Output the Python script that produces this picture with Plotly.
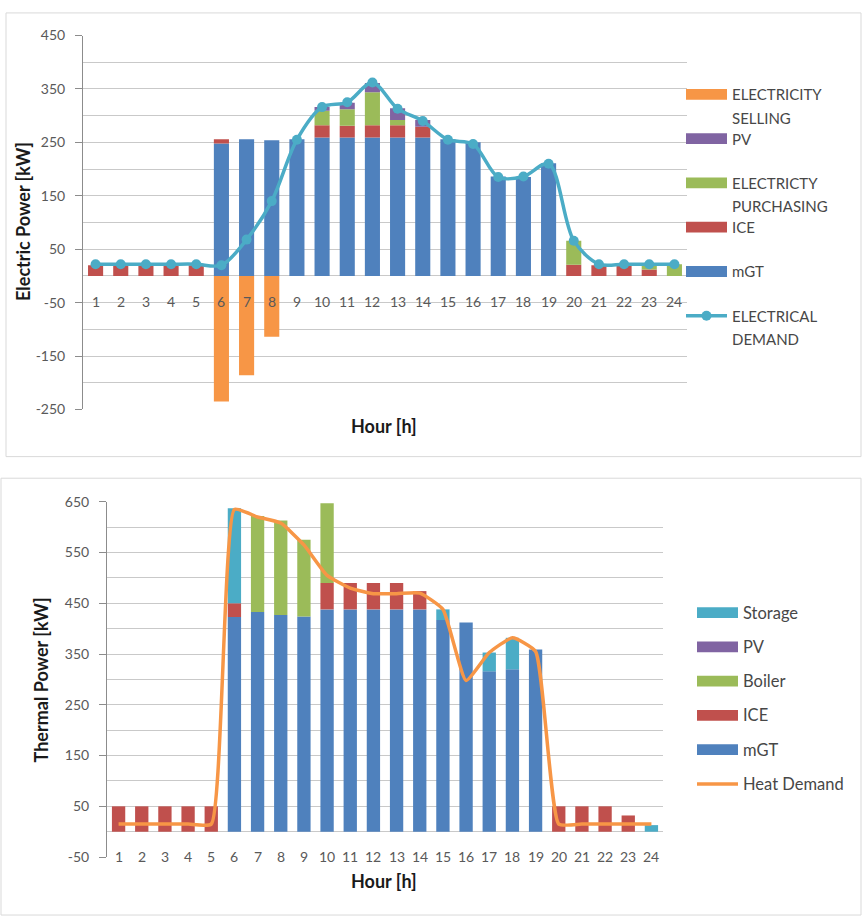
import plotly.graph_objects as go

# ---------------------------------------------------------------- data
hours = list(range(1, 25))
hour_labels = [str(h) for h in hours]

# Electric balance [kW]
elec_mgt = [0, 0, 0, 0, 0, 248, 256, 254, 256, 259, 259, 259, 259, 259, 256, 250, 186, 185, 211, 0, 0, 0, 0, 0]
elec_ice = [20, 20, 20, 20, 20, 8, 0, 0, 0, 23, 22, 23, 23, 20, 0, 0, 0, 0, 0, 21, 20, 20, 12, 0]
elec_purchasing = [0, 0, 0, 0, 0, 0, 0, 0, 0, 27, 31, 62, 10, 0, 0, 0, 0, 0, 0, 45, 0, 0, 8, 22]
elec_pv = [0, 0, 0, 0, 0, 0, 0, 0, 0, 7, 12, 17, 22, 13, 0, 0, 0, 0, 0, 0, 0, 0, 0, 0]
elec_selling = [0, 0, 0, 0, 0, -235, -186, -114, 0, 0, 0, 0, 0, 0, 0, 0, 0, 0, 0, 0, 0, 0, 0, 0]
elec_demand = [22, 22, 22, 22, 22, 20, 68, 140, 255, 316, 325, 362, 313, 290, 255, 247, 185, 186, 210, 66, 22, 22, 22, 22]
elec_ticks = [-250, -150, -50, 50, 150, 250, 350, 450]

# Thermal balance [kW]
heat_mgt = [0, 0, 0, 0, 0, 423, 433, 427, 424, 438, 438, 438, 438, 438, 417, 412, 316, 320, 359, 0, 0, 0, 0, 0]
heat_ice = [50, 50, 50, 50, 50, 27, 0, 0, 0, 52, 52, 52, 52, 36, 0, 0, 0, 0, 0, 50, 50, 50, 32, 0]
heat_boiler = [0, 0, 0, 0, 0, 0, 189, 186, 151, 157, 0, 0, 0, 0, 0, 0, 0, 0, 0, 0, 0, 0, 0, 0]
heat_pv = [0] * 24
heat_storage = [0, 0, 0, 0, 0, 187, 0, 0, 0, 0, 0, 0, 0, 0, 21, 0, 37, 62, 0, 0, 0, 0, 0, 13]
heat_demand = [15, 15, 15, 15, 15, 635, 620, 608, 565, 505, 480, 469, 469, 470, 438, 298, 353, 382, 355, 15, 15, 15, 15, 15]
heat_ticks = [-50, 50, 150, 250, 350, 450, 550, 650]

# ---------------------------------------------------------------- styling
W, H = 862, 924
BLUE, RED, GREEN = "#4F81BD", "#C0504D", "#9BBB59"
PURPLE, AQUA, ORANGE = "#8064A2", "#4BACC6", "#F79646"
GRID = "#c9c9c9"
AXIS = "#8c8c8c"
FAMILY = "Lato, Carlito, sans-serif"
TICK_FONT = dict(family=FAMILY, size=14, color="#595959")
TITLE_FONT = dict(family=FAMILY, size=18, color="#1a1a1a")
LEG_FONT_TOP = dict(family=FAMILY, size=15, color="#474747")
LEG_FONT_BOT = dict(family=FAMILY, size=16.5, color="#474747")


def fx(px):
    return px / W


def fy(py):
    return 1 - py / H


fig = go.Figure()

# ---- electric chart (x / y)
elec_bars = [
    ("mGT", elec_mgt, BLUE),
    ("ICE", elec_ice, RED),
    ("ELECTRICTY PURCHASING", elec_purchasing, GREEN),
    ("PV", elec_pv, PURPLE),
    ("ELECTRICITY SELLING", elec_selling, ORANGE),
]
for name, vals, col in elec_bars:
    fig.add_trace(go.Bar(x=hours, y=vals, name=name, marker_color=col,
                         marker_line_width=0, width=0.6, showlegend=False,
                         xaxis="x", yaxis="y"))
fig.add_trace(go.Scatter(x=hours, y=elec_demand, name="ELECTRICAL DEMAND",
                         mode="lines+markers",
                         line=dict(color=AQUA, width=3.5, shape="spline", smoothing=0.9),
                         marker=dict(color=AQUA, size=10), showlegend=False,
                         xaxis="x", yaxis="y"))

# ---- thermal chart (x2 / y2)
heat_bars = [
    ("mGT", heat_mgt, BLUE),
    ("ICE", heat_ice, RED),
    ("Boiler", heat_boiler, GREEN),
    ("PV", heat_pv, PURPLE),
    ("Storage", heat_storage, AQUA),
]
for name, vals, col in heat_bars:
    fig.add_trace(go.Bar(x=hours, y=vals, name=name, marker_color=col,
                         marker_line_width=0, width=0.575, showlegend=False,
                         xaxis="x2", yaxis="y2"))
fig.add_trace(go.Scatter(x=hours, y=heat_demand, name="Heat Demand", mode="lines",
                         line=dict(color=ORANGE, width=3.5, shape="spline", smoothing=0.45),
                         showlegend=False, xaxis="x2", yaxis="y2"))


# ---------------------------------------------------------------- axes
def yaxis_cfg(rng, ticks, domain, anchor):
    return dict(range=rng, domain=domain, anchor=anchor,
                tickmode="array", tickvals=ticks, ticktext=[str(t) for t in ticks],
                ticks="outside", ticklen=7, tickcolor=AXIS, showline=True,
                linecolor=AXIS, linewidth=1, showgrid=True, gridcolor=GRID,
                gridwidth=1, zeroline=False, tickfont=TICK_FONT,
                ticklabelstandoff=7, fixedrange=True,
                minor=dict(dtick=50, tick0=0, showgrid=True, gridcolor=GRID,
                           gridwidth=1, ticks=""))


def xaxis_cfg(domain, anchor):
    return dict(range=[0.5, 24.5], domain=domain, anchor=anchor, showgrid=False,
                showticklabels=False, showline=False, zeroline=False,
                ticks="", fixedrange=True)


fig.update_layout(
    width=W, height=H, autosize=False,
    margin=dict(l=0, r=0, t=0, b=0),
    paper_bgcolor="white", plot_bgcolor="white",
    barmode="relative",
    xaxis=xaxis_cfg([fx(83), fx(687)], "y"),
    yaxis=yaxis_cfg([-250, 450], elec_ticks, [fy(408), fy(27)], "x"),
    xaxis2=xaxis_cfg([fx(107), fx(663)], "y2"),
    yaxis2=yaxis_cfg([-50, 650], heat_ticks, [fy(864), fy(502)], "x2"),
)

annotations = []
shapes = []

# hour labels sitting just under the zero line
for h, lab in zip(hours, hour_labels):
    annotations.append(dict(x=h, y=0, xref="x", yref="y", yshift=-26, text=lab,
                            xanchor="center", yanchor="middle",
                            showarrow=False, font=TICK_FONT))
    annotations.append(dict(x=h, y=0, xref="x2", yref="y2", yshift=-25, text=lab,
                            xanchor="center", yanchor="middle",
                            showarrow=False, font=TICK_FONT))


def paper_text(px, py, text, font, angle=0, xanchor="center"):
    return dict(x=fx(px), y=fy(py), xref="paper", yref="paper", text=text,
                textangle=angle, showarrow=False, font=font,
                xanchor=xanchor, yanchor="middle")


# axis titles
annotations += [
    paper_text(23, 217, "<b>Electric Power [kW]</b>", TITLE_FONT, angle=-90),
    paper_text(384, 425, "<b>Hour [h]</b>", TITLE_FONT),
    paper_text(41, 684, "<b>Thermal Power [kW]</b>", TITLE_FONT, angle=-90),
    paper_text(384, 888, "<b>Hour [h]</b>", TITLE_FONT),
]

# chart frames
shapes += [
    dict(type="rect", xref="paper", yref="paper", x0=fx(6), x1=fx(861), y0=fy(456), y1=fy(4),
         line=dict(color="#d9d9d9", width=1), fillcolor="rgba(0,0,0,0)", layer="below"),
    dict(type="rect", xref="paper", yref="paper", x0=fx(1), x1=fx(861), y0=fy(923), y1=fy(478),
         line=dict(color="#d9d9d9", width=1), fillcolor="rgba(0,0,0,0)", layer="below"),
]


# legends: swatch + label rows
def legend_rows(entries, x_sw, sw_w, y0, step, font, line_gap):
    y = y0
    for lines, col, kind in entries:
        if kind == "bar":
            shapes.append(dict(type="rect", xref="paper", yref="paper",
                               x0=fx(x_sw), x1=fx(x_sw + sw_w), y0=fy(y + 5.5), y1=fy(y - 5.5),
                               fillcolor=col, line_width=0))
        else:
            shapes.append(dict(type="line", xref="paper", yref="paper",
                               x0=fx(x_sw), x1=fx(x_sw + sw_w), y0=fy(y), y1=fy(y),
                               line=dict(color=col, width=3.5)))
            if kind == "marker":
                cx = x_sw + sw_w / 2
                shapes.append(dict(type="circle", xref="paper", yref="paper",
                                   x0=fx(cx - 5), x1=fx(cx + 5), y0=fy(y + 5), y1=fy(y - 5),
                                   fillcolor=col, line_width=0))
        for i, txt in enumerate(lines):
            annotations.append(paper_text(x_sw + sw_w + 3, y + i * line_gap, txt, font,
                                          xanchor="left"))
        y += step


legend_rows([
    (["ELECTRICITY", "SELLING"], ORANGE, "bar"),
    (["PV"], PURPLE, "bar"),
    (["ELECTRICTY", "PURCHASING"], GREEN, "bar"),
    (["ICE"], RED, "bar"),
    (["mGT"], BLUE, "bar"),
    (["ELECTRICAL", "DEMAND"], AQUA, "marker"),
], x_sw=686, sw_w=41, y0=87, step=45.1, font=LEG_FONT_TOP, line_gap=23.7)

legend_rows([
    (["Storage"], AQUA, "bar"),
    (["PV"], PURPLE, "bar"),
    (["Boiler"], GREEN, "bar"),
    (["ICE"], RED, "bar"),
    (["mGT"], BLUE, "bar"),
    (["Heat Demand"], ORANGE, "line"),
], x_sw=697, sw_w=41, y0=615, step=34.9, font=LEG_FONT_BOT, line_gap=0)

fig.update_layout(annotations=annotations, shapes=shapes)

fig.write_html("out.html")
